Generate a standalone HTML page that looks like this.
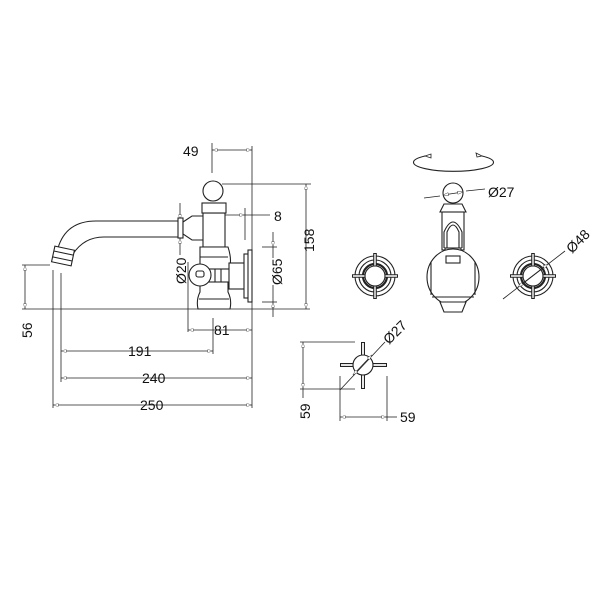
<!DOCTYPE html>
<html><head><meta charset="utf-8"><style>
body{margin:0;background:#fff}
svg{display:block}
text{font-family:"Liberation Sans",sans-serif;font-size:14px;fill:#111}
</style></head><body>
<svg width="600" height="600" viewBox="0 0 600 600" xmlns="http://www.w3.org/2000/svg">
<defs>
<marker id="a" viewBox="0 0 10 6" refX="10" refY="3" markerWidth="8" markerHeight="4" orient="auto-start-reverse"><path d="M0,0 L10,3 L0,6 z" fill="#fff" stroke="#333" stroke-width="0.8"/></marker>
</defs>
<g fill="none" stroke="#222" stroke-width="0.8">
<line x1="22" y1="309" x2="310" y2="309"/>
<line x1="212" y1="143" x2="212" y2="173"/>
<line x1="252" y1="146" x2="252" y2="408"/>
<line x1="222" y1="184" x2="311" y2="184"/>
<line x1="245" y1="208" x2="245" y2="240"/>
<line x1="53" y1="270" x2="53" y2="408"/>
<line x1="61" y1="273" x2="61" y2="382"/>
<line x1="188" y1="262" x2="188" y2="332"/>
<line x1="213" y1="318" x2="213" y2="354"/>
<line x1="262" y1="247" x2="277" y2="247"/>
<line x1="262" y1="302" x2="277" y2="302"/>
<line x1="22" y1="265" x2="50" y2="265"/>
<line x1="212" y1="150" x2="252" y2="150" marker-start="url(#a)" marker-end="url(#a)"/>
<line x1="306" y1="184" x2="306" y2="309" marker-start="url(#a)" marker-end="url(#a)"/>
<line x1="225" y1="215" x2="245" y2="215" marker-end="url(#a)"/>
<line x1="245" y1="215" x2="270" y2="215"/>
<line x1="273" y1="232" x2="273" y2="247" marker-end="url(#a)"/>
<line x1="273" y1="317" x2="273" y2="302" marker-end="url(#a)"/>
<line x1="273" y1="247" x2="273" y2="258"/><line x1="273" y1="285" x2="273" y2="302"/>
<line x1="180" y1="203" x2="180" y2="220" marker-end="url(#a)"/>
<line x1="180" y1="255" x2="180" y2="238" marker-end="url(#a)"/>
<line x1="25" y1="265" x2="25" y2="309" marker-start="url(#a)" marker-end="url(#a)"/>
<line x1="188" y1="330" x2="252" y2="330" marker-start="url(#a)" marker-end="url(#a)"/>
<line x1="61" y1="351" x2="213" y2="351" marker-start="url(#a)" marker-end="url(#a)"/>
<line x1="61" y1="378" x2="252" y2="378" marker-start="url(#a)" marker-end="url(#a)"/>
<line x1="53" y1="405" x2="252" y2="405" marker-start="url(#a)" marker-end="url(#a)"/>
</g>
<g fill="#fff" stroke="#222" stroke-width="1.1">
<path d="M178,221 L96,221 Q66,221 58,248" fill="none"/>
<path d="M178,237 L104,237 Q84,237 73,254" fill="none"/>
<g transform="rotate(12 63 256)"><rect x="53" y="248" width="20" height="16"/><line x1="53" y1="253" x2="73" y2="253"/><line x1="53" y1="259" x2="73" y2="259"/></g>
<rect x="178" y="218" width="5" height="20"/>
<path d="M183,222 L192,216 L203,216 L208,228 L203,240 L192,240 L183,234 z"/>
<rect x="203" y="213" width="22" height="34"/>
<rect x="202" y="203" width="24" height="10"/>
<circle cx="213" cy="191" r="10"/>
<path d="M200,247 L228,247 Q233,262 228,272 L228,292 Q232,300 230,309 L198,309 Q196,300 200,292 Z"/>
<line x1="200" y1="257" x2="228" y2="257"/>
<line x1="199" y1="299" x2="229" y2="299"/>
<rect x="207" y="269" width="24" height="13"/>
<line x1="215" y1="269" x2="215" y2="282"/><line x1="221" y1="269" x2="221" y2="282"/>
<rect x="229" y="263" width="17" height="26"/>
<rect x="244" y="254" width="5" height="44"/>
<rect x="248" y="250" width="4" height="52"/>
<circle cx="200" cy="275" r="11"/>
<rect x="196" y="271" width="8" height="6" rx="2"/>
</g>
<g fill="none" stroke="#222" stroke-width="1.1">
<path d="M425,156 A40,9 0 1 0 482,156"/>
<path d="M425,156 l6,-2 l0,4 z M482,156 l-6,-3 l1,4 z" fill="#fff" stroke-width="0.8"/>
<circle cx="453" cy="193" r="10" fill="#fff"/>
<path d="M440,212 L466,212 L462,204 L444,204 Z"/>
<rect x="442" y="212" width="22" height="38"/>
<path d="M447,248 L447,232 Q453,218 459,232 L459,248"/>
<path d="M444,248 L444,232 Q453,212 462,232 L462,248"/>
<rect x="445" y="248" width="16" height="8"/>
<ellipse cx="453" cy="277" rx="26" ry="28" fill="#fff"/>
<path d="M431,262 L431,295 M475,262 L475,295"/>
<line x1="432" y1="297" x2="474" y2="297"/>
<path d="M440,302 L466,302 L462,312 L444,312 Z" fill="#fff"/>
<rect x="446" y="256" width="14" height="7" fill="#fff"/>
</g>
<g fill="none" stroke="#222" stroke-width="1.1">
<circle cx="375" cy="276" r="20"/><circle cx="375" cy="276" r="16"/><circle cx="375" cy="276" r="12" stroke-width="2.2"/>
<path d="M352,276 H398 M375,253 V299" stroke-width="3.6" stroke="#222"/>
<path d="M353,276 H397 M375,254 V298" stroke-width="1.4" stroke="#fff"/>
<circle cx="375" cy="276" r="10" fill="#fff"/>
<circle cx="533" cy="276" r="20"/><circle cx="533" cy="276" r="16"/><circle cx="533" cy="276" r="12" stroke-width="2.2"/>
<path d="M510,276 H556 M533,253 V299" stroke-width="3.6" stroke="#222"/>
<path d="M511,276 H555 M533,254 V298" stroke-width="1.4" stroke="#fff"/>
<circle cx="533" cy="276" r="10" fill="#fff"/>
<path d="M340,365 H387 M363,342 V389" stroke-width="4" stroke="#222"/>
<path d="M341,365 H386 M363,343 V388" stroke-width="1.8" stroke="#fff"/>
<circle cx="363" cy="365" r="10" fill="#fff"/>
</g>
<g fill="none" stroke="#222" stroke-width="0.8">
<line x1="424" y1="198" x2="440" y2="196"/>
<line x1="466" y1="191" x2="485" y2="189"/>
<line x1="443" y1="195" x2="463" y2="192" marker-start="url(#a)" marker-end="url(#a)"/>
<line x1="503" y1="299" x2="565" y2="251"/>
<line x1="518" y1="287" x2="548" y2="264" marker-start="url(#a)" marker-end="url(#a)"/>
<line x1="340" y1="390" x2="385" y2="342"/>
<line x1="353" y1="375" x2="372" y2="355" marker-start="url(#a)" marker-end="url(#a)"/>
<line x1="300" y1="342" x2="355" y2="342"/>
<line x1="300" y1="389" x2="355" y2="389"/>
<line x1="303" y1="342" x2="303" y2="389" marker-start="url(#a)" marker-end="url(#a)"/>
<line x1="340" y1="376" x2="340" y2="421"/>
<line x1="387" y1="376" x2="387" y2="421"/>
<line x1="340" y1="417" x2="387" y2="417" marker-start="url(#a)" marker-end="url(#a)"/>
<line x1="387" y1="417" x2="397" y2="417"/>
<line x1="303" y1="389" x2="303" y2="398"/>
</g>
<g>
<text x="183" y="156">49</text>
<text x="274" y="221">8</text>
<text x="214" y="335">81</text>
<text x="128" y="356">191</text>
<text x="142" y="383">240</text>
<text x="140" y="410">250</text>
<text x="488" y="197">Ø27</text>
<text x="400" y="422">59</text>
<text transform="translate(314,252) rotate(-90)">158</text>
<text transform="translate(282,285) rotate(-90)">Ø65</text>
<text transform="translate(186,284) rotate(-90)">Ø20</text>
<text transform="translate(32,338) rotate(-90)">56</text>
<text transform="translate(310,419) rotate(-90)">59</text>
<text transform="translate(572,254) rotate(-45)">Ø48</text>
<text transform="translate(389,345) rotate(-45)">Ø27</text>
</g>
</svg>
</body></html>
